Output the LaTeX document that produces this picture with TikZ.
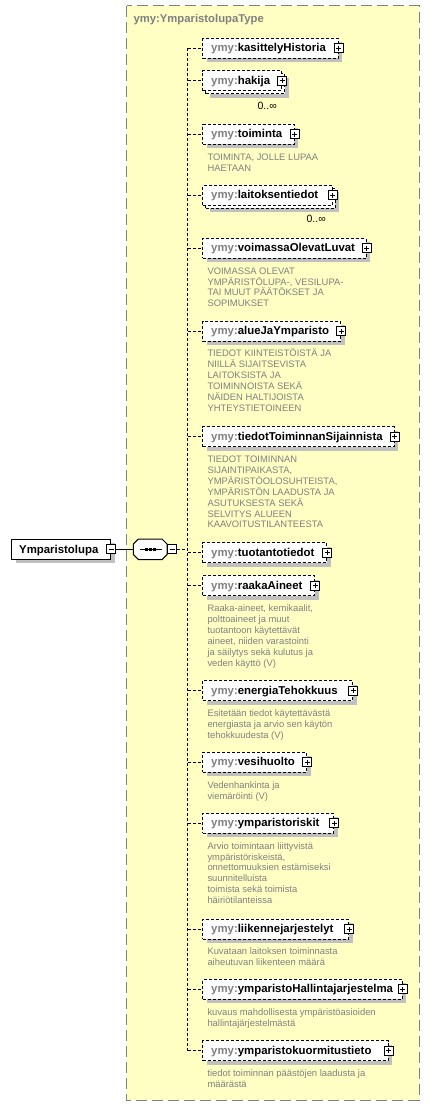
\documentclass[tikz,border=0pt]{standalone}
\usepackage{fontspec}
\setmainfont{Liberation Sans}
\usetikzlibrary{calc, shadows}

\definecolor{typefill}{RGB}{255,255,196}
\definecolor{typeline}{RGB}{128,128,128}
\definecolor{shadowgray}{RGB}{192,192,192}
\definecolor{softgray}{RGB}{128,128,128}

\tikzset{
  conn/.style={line width=1pt, dash pattern=on 3pt off 2pt},
  solidconn/.style={line width=1pt},
  single/.style={general shadow={draw=none, fill=shadowgray, shadow xshift=4pt, shadow yshift=-4pt}},
  multi/.style={general shadow={draw=none, fill=shadowgray, shadow xshift=7pt, shadow yshift=-7pt},
    general shadow={draw=black, fill=white, line width=1pt, dash pattern=on 3pt off 2pt,
      shadow xshift=3pt, shadow yshift=-3pt}},
  copies/.code={\ifnum#1>1 \tikzset{multi}\else\tikzset{single}\fi},
  elem/.style={draw, fill=white, line width=1pt, dash pattern=on 3pt off 2pt, anchor=west,
    minimum height=20pt, inner sep=0pt},
  rootbox/.style={draw, fill=white, line width=1pt, anchor=west, minimum height=20pt,
    minimum width=99pt, inner sep=0pt, single},
  seqbox/.style={anchor=west, minimum width=33.4pt, minimum height=20pt, inner sep=0pt},
  plusicon/.style={draw, solid, fill=white, line width=1pt, minimum size=9pt, inner sep=0pt,
    path picture={\draw[line width=1pt]
      ([xshift=2pt]path picture bounding box.west) -- ([xshift=-2pt]path picture bounding box.east)
      ([yshift=2pt]path picture bounding box.south) -- ([yshift=-2pt]path picture bounding box.north);}},
  minusicon/.style={draw, solid, fill=white, line width=1pt, minimum size=9pt, inner sep=0pt,
    path picture={\draw[line width=1pt]
      ([xshift=2pt]path picture bounding box.west) -- ([xshift=-2pt]path picture bounding box.east);}},
  typebox/.style={fill=typefill, draw=typeline, line width=1pt, dash pattern=on 11pt off 5pt},
  lbl/.style={inner sep=0pt, anchor=base west, font=\fontsize{11.4}{13}\selectfont\bfseries},
  title/.style={inner sep=0pt, anchor=base west, text=softgray, font=\fontsize{11.3}{13}\selectfont\bfseries},
  desc/.style={inner sep=0pt, anchor=base west, text=softgray, font=\fontsize{9.4}{11}\selectfont},
  mult/.style={inner sep=0pt, anchor=base east, font=\fontsize{10.5}{12}\selectfont}
}

\begin{document}
\begin{tikzpicture}[x=1pt,y=-1pt]
  \useasboundingbox (0,0) rectangle (430,1106);

  % complex type
  \draw[typebox] (126.7,5.7) rectangle (419,1100);
  \node[title] (typename) at (133.3,22.7) {ymy:YmparistolupaType};

  % child elements
  \foreach \n/\lbl/\cy/\w/\m in {
      kas/kasittelyHistoria/48.3/135.4/1,
      hak/hakija/80.5/78.7/2,
      toi/toiminta/134.3/91.4/1,
      lai/laitoksentiedot/195.3/129.4/2,
      voi/voimassaOlevatLuvat/248.3/163.2/1,
      alu/alueJaYmparisto/331/137.7/1,
      tie/tiedotToiminnanSijainnista/436.7/191.2/1,
      tuo/tuotantotiedot/552.7/123.7/1,
      raa/raakaAineet/585.7/111.7/1,
      ene/energiaTehokkuus/690.7/149.7/1,
      ves/vesihuolto/762.3/103.7/1,
      ris/ymparistoriskit/823.3/130.7/1,
      lii/liikennejarjestelyt/929/145.7/1,
      hal/ymparistoHallintajarjestelma/989.3/199.4/1,
      kuo/ymparistokuormitustieto/1050.7/185.4/1}
  {
    \node[elem, copies=\m, minimum width=\w pt] (\n) at (202.3,\cy) {};
    \node[lbl] (\n-txt) at ($(\n.west)+(8.7,3.5)$) {\textcolor{softgray}{ymy:}\lbl};
    \node[plusicon] (\n-plus) at (\n.east) {};
    \coordinate (\n-j) at (187.7,\cy);
    \draw[conn] (\n-j) -- (\n.west);
  }
  \draw[conn] (kas-j) -- (kuo-j);

  \node[mult] (hak-mult) at ($(hak.east)+(-5,28.5)$) {0..∞};
  \node[mult] (lai-mult) at ($(lai.east)+(-6.7,27.4)$) {0..∞};

  % annotations
  \foreach \n/\lines in {
      toi/{{TOIMINTA, JOLLE LUPAA},{HAETAAN}},
      voi/{{VOIMASSA OLEVAT},{YMPÄRISTÖLUPA-, VESILUPA-},{TAI MUUT PÄÄTÖKSET JA},{SOPIMUKSET}},
      alu/{{TIEDOT KIINTEISTÖISTÄ JA},{NIILLÄ SIJAITSEVISTA},{LAITOKSISTA JA},{TOIMINNOISTA SEKÄ},{NÄIDEN HALTIJOISTA},{YHTEYSTIETOINEEN}},
      tie/{{TIEDOT TOIMINNAN},{SIJAINTIPAIKASTA,},{YMPÄRISTÖOLOSUHTEISTA,},{YMPÄRISTÖN LAADUSTA JA},{ASUTUKSESTA SEKÄ},{SELVITYS ALUEEN},{KAAVOITUSTILANTEESTA}},
      raa/{{Raaka-aineet, kemikaalit,},{polttoaineet ja muut},{tuotantoon käytettävät},{aineet, niiden varastointi},{ja säilytys sekä kulutus ja},{veden käyttö (V)}},
      ene/{{Esitetään tiedot käytettävästä},{energiasta ja arvio sen käytön},{tehokkuudesta (V)}},
      ves/{{Vedenhankinta ja},{viemäröinti (V)}},
      ris/{{Arvio toimintaan liittyvistä},{ympäristöriskeistä,},{onnettomuuksien estämiseksi},{suunnitelluista},{toimista sekä toimista},{häiriötilanteissa}},
      lii/{{Kuvataan laitoksen toiminnasta},{aiheutuvan liikenteen määrä}},
      hal/{{kuvaus mahdollisesta ympäristöasioiden},{hallintajärjestelmästä}},
      kuo/{{tiedot toiminnan päästöjen laadusta ja},{määrästä}}}
    \foreach \l [count=\i] in \lines
      \node[desc] (\n-d\i) at ($(\n.west)+(5,{14.9+10.9*\i})$) {\l};

  % root element and sequence
  \node[rootbox] (root) at (11,549.3) {};
  \node[lbl] (root-txt) at ($(root.west)+(8,3.7)$) {Ymparistolupa};
  \node[minusicon] (root-minus) at (root.east) {};
  \node[seqbox] (seq) at (133.3,549.3) {};
  \fill[shadowgray, shift={(4,4)}] ($(seq.north west)+(5,0)$) -- ($(seq.north east)+(-5,0)$)
    -- ($(seq.north east)+(0,5)$) -- ($(seq.south east)+(0,-5)$) -- ($(seq.south east)+(-5,0)$)
    -- ($(seq.south west)+(5,0)$) -- ($(seq.south west)+(0,-5)$) -- ($(seq.north west)+(0,5)$) -- cycle;
  \draw[solidconn, fill=white] ($(seq.north west)+(5,0)$) -- ($(seq.north east)+(-5,0)$)
    -- ($(seq.north east)+(0,5)$) -- ($(seq.south east)+(0,-5)$) -- ($(seq.south east)+(-5,0)$)
    -- ($(seq.south west)+(5,0)$) -- ($(seq.south west)+(0,-5)$) -- ($(seq.north west)+(0,5)$) -- cycle;
  \draw[solidconn] ($(seq.west)+(6.7,0)$) -- ($(seq.east)+(-5,0)$);
  \foreach \dx in {-3.8,0,3.8}
    \fill ($(seq.center)+({\dx-1.5},-1.5)$) rectangle +(3,3);
  \node[minusicon, anchor=west] (seq-minus) at (seq.east) {};
  \coordinate (seq-j) at (187.7,549.3);
  \draw[solidconn] (root-minus) -- (seq);
  \draw[conn] (seq-minus) -- (seq-j);
\end{tikzpicture}
\end{document}
